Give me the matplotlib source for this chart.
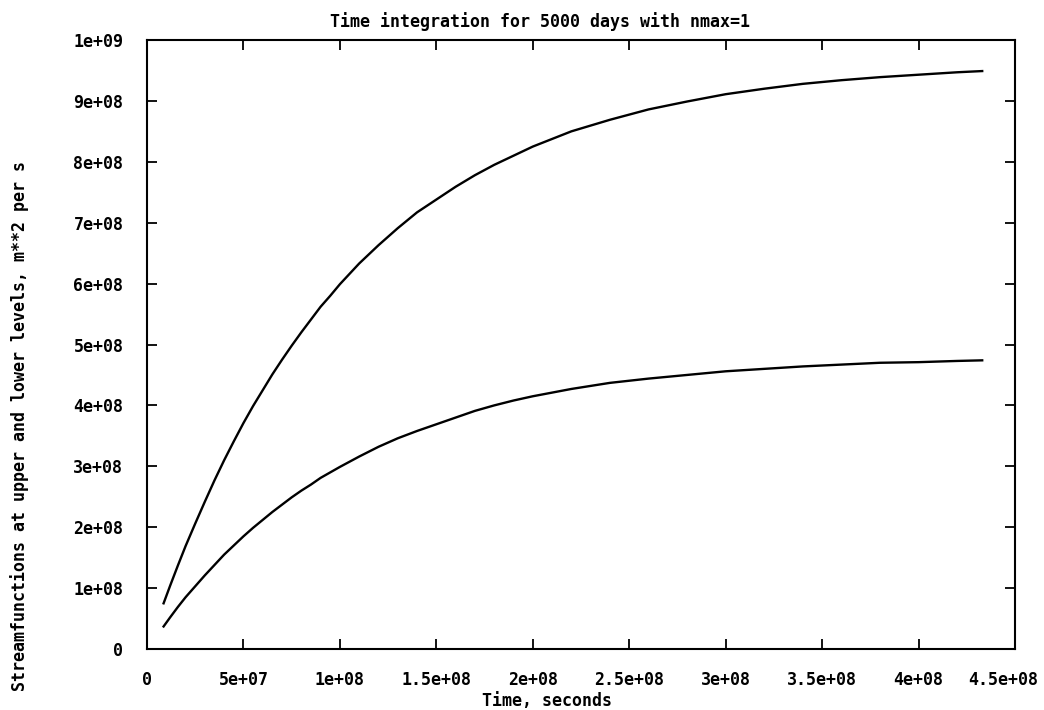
import numpy as np
import matplotlib
matplotlib.use('Agg')
import matplotlib.pyplot as plt
from matplotlib.transforms import ScaledTranslation

# values (time in seconds)
time_s = [8.6e6, 1.2e7, 1.6e7, 2.0e7, 2.5e7, 3.0e7, 3.5e7, 4.0e7, 4.5e7, 5.0e7,
          5.5e7, 6.0e7, 6.5e7, 7.0e7, 7.5e7, 8.0e7, 8.5e7, 9.0e7, 9.5e7, 1.0e8,
          1.1e8, 1.2e8, 1.3e8, 1.4e8, 1.5e8, 1.6e8, 1.7e8, 1.8e8, 1.9e8, 2.0e8,
          2.2e8, 2.4e8, 2.6e8, 2.8e8, 3.0e8, 3.2e8, 3.4e8, 3.6e8, 3.8e8, 4.0e8,
          4.2e8, 4.33e8]
psi_upper = [0.75e8, 1.04e8, 1.37e8, 1.69e8, 2.06e8, 2.42e8, 2.77e8, 3.10e8, 3.41e8, 3.71e8,
             3.99e8, 4.25e8, 4.51e8, 4.75e8, 4.98e8, 5.20e8, 5.41e8, 5.62e8, 5.80e8, 5.99e8,
             6.33e8, 6.63e8, 6.91e8, 7.17e8, 7.38e8, 7.59e8, 7.78e8, 7.95e8, 8.10e8, 8.25e8,
             8.50e8, 8.69e8, 8.86e8, 8.99e8, 9.11e8, 9.20e8, 9.28e8, 9.34e8, 9.39e8, 9.43e8,
             9.47e8, 9.49e8]
psi_lower = [0.37e8, 0.52e8, 0.69e8, 0.85e8, 1.03e8, 1.21e8, 1.38e8, 1.55e8, 1.70e8, 1.85e8,
             1.99e8, 2.12e8, 2.25e8, 2.37e8, 2.49e8, 2.60e8, 2.70e8, 2.81e8, 2.90e8, 2.99e8,
             3.16e8, 3.32e8, 3.46e8, 3.58e8, 3.69e8, 3.80e8, 3.91e8, 4.00e8, 4.08e8, 4.15e8,
             4.27e8, 4.37e8, 4.44e8, 4.50e8, 4.56e8, 4.60e8, 4.64e8, 4.67e8, 4.70e8, 4.71e8,
             4.73e8, 4.74e8]

x_ticks = [0, 5e7, 1e8, 1.5e8, 2e8, 2.5e8, 3e8, 3.5e8, 4e8, 4.5e8]
x_labels = ['0', '5e+07', '1e+08', '1.5e+08', '2e+08', '2.5e+08', '3e+08', '3.5e+08', '4e+08', '4.5e+08']
y_ticks = [0, 1e8, 2e8, 3e8, 4e8, 5e8, 6e8, 7e8, 8e8, 9e8, 1e9]
y_labels = ['0', '1e+08', '2e+08', '3e+08', '4e+08', '5e+08', '6e+08', '7e+08', '8e+08', '9e+08', '1e+09']

plt.rcParams['font.family'] = ['DejaVu Sans Mono']
plt.rcParams['font.weight'] = 'bold'
fs = 12

fig = plt.figure(figsize=(10.44, 7.10), dpi=100)
ax = fig.add_axes([147 / 1044, 1 - 649 / 710, 868 / 1044, 609 / 710])

ax.plot(time_s, psi_upper, color='black', linewidth=1.7)
ax.plot(time_s, psi_lower, color='black', linewidth=1.7)

ax.set_xlim(0, 4.5e8)
ax.set_ylim(0, 1e9)
ax.set_xticks(x_ticks)
ax.set_xticklabels(x_labels, fontsize=fs)
ax.set_yticks(y_ticks)
ax.set_yticklabels(y_labels, fontsize=fs)
ax.tick_params(direction='in', length=7, width=1.3, top=True, right=True)
ax.tick_params(axis='x', pad=16)
ax.tick_params(axis='y', pad=17)
for sp in ax.spines.values():
    sp.set_linewidth(1.5)

# keep the last x label inside the page
last = ax.get_xticklabels()[-1]
last.set_transform(last.get_transform() + ScaledTranslation(-12 / 100, 0, fig.dpi_scale_trans))

fig.text(540 / 1044, 1 - 22 / 710, 'Time integration for 5000 days with nmax=1',
         ha='center', va='center', fontsize=fs)
fig.text(547 / 1044, 1 - 701 / 710, 'Time, seconds', ha='center', va='center', fontsize=fs)
fig.text(20 / 1044, 1 - 426 / 710, 'Streamfunctions at upper and lower levels, m**2 per s',
         ha='center', va='center', rotation=90, fontsize=fs)

fig.savefig('out.png', dpi=100)
